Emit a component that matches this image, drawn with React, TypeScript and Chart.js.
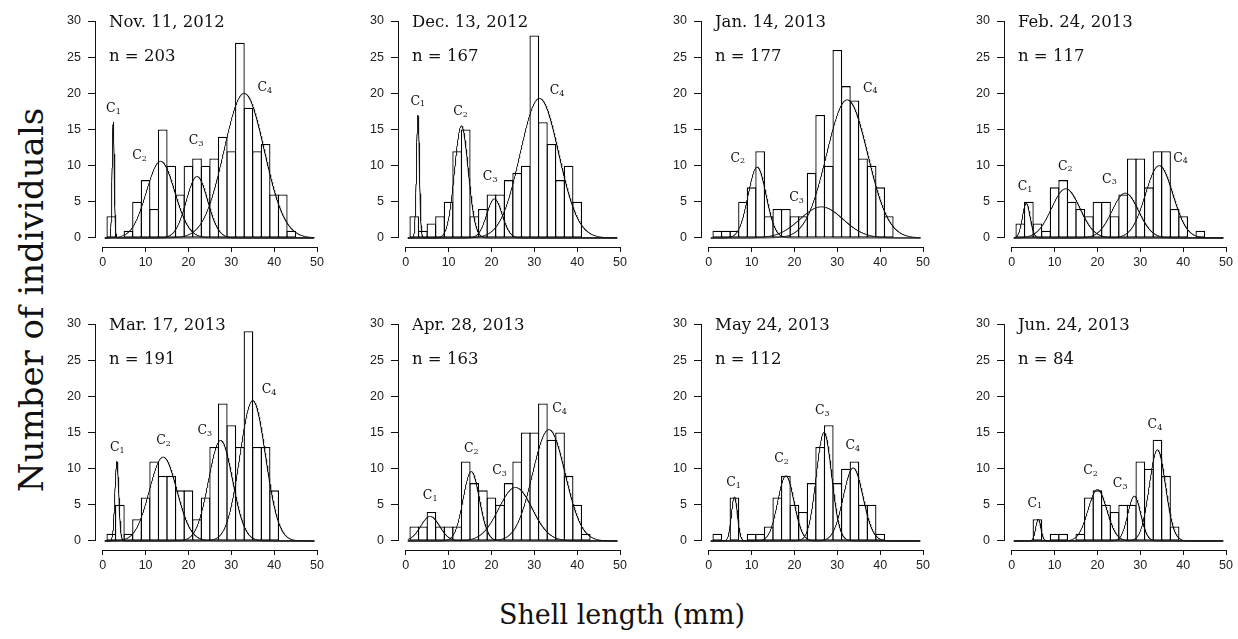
import React, { useEffect, useRef } from "react";
import { Chart, registerables } from "chart.js";

Chart.register(...registerables);

// ---------- data ----------
const binCenters = [2, 4, 6, 8, 10, 12, 14, 16, 18, 20, 22, 24, 26, 28, 30, 32, 34, 36, 38, 40, 42, 44];
const yTickValues = [0, 5, 10, 15, 20, 25, 30];
const xTickValues = [0, 10, 20, 30, 40, 50];

const sampleDates = [
  "Nov. 11, 2012", "Dec. 13, 2012", "Jan. 14, 2013", "Feb. 24, 2013",
  "Mar. 17, 2013", "Apr. 28, 2013", "May 24, 2013", "Jun. 24, 2013",
];
const sampleSizes = [203, 167, 177, 117, 191, 163, 112, 84];

const countsNov = [3, 0, 1, 5, 8, 4, 15, 10, 6, 10, 11, 10, 11, 14, 12, 27, 18, 12, 13, 6, 6, 1];
const countsDec = [3, 1, 2, 3, 5, 12, 15, 3, 4, 6, 6, 8, 9, 10, 28, 16, 13, 8, 10, 5, 0, 0];
const countsJan = [1, 1, 1, 5, 7, 12, 3, 4, 4, 3, 3, 9, 17, 10, 26, 21, 19, 11, 10, 7, 3, 0];
const countsFeb = [2, 5, 2, 1, 7, 8, 5, 4, 3, 5, 5, 3, 6, 11, 11, 7, 12, 12, 4, 3, 0, 1];
const countsMar = [1, 5, 1, 3, 6, 11, 9, 9, 7, 7, 3, 6, 13, 19, 16, 13, 29, 13, 13, 7, 0, 0];
const countsApr = [2, 2, 4, 2, 2, 2, 11, 8, 7, 6, 5, 8, 11, 15, 15, 19, 14, 15, 9, 5, 1, 0];
const countsMay = [1, 0, 6, 0, 1, 1, 2, 6, 9, 5, 4, 8, 13, 16, 8, 10, 11, 5, 5, 1, 0, 0];
const countsJun = [0, 0, 3, 0, 1, 1, 0, 1, 6, 7, 5, 4, 5, 5, 11, 10, 14, 9, 2, 0, 0, 0];
const allCounts = [countsNov, countsDec, countsJan, countsFeb, countsMar, countsApr, countsMay, countsJun];

// fitted normal components C1..C4 (null = absent)
const componentMeans = [
  [2.45, 13.5, 22, 33],
  [2.85, 13, 20.7, 31.2],
  [null, 11.3, 26.3, 32.3],
  [3.4, 12.6, 26.5, 34.4],
  [3.3, 14.1, 27.5, 35],
  [5.7, 15.3, 25.6, 33.4],
  [6, 18, 26.9, 33.7],
  [6.2, 20, 28.6, 34],
];
const componentPeaks = [
  [16, 10.6, 8.5, 20],
  [17, 15.5, 5.4, 19.3],
  [null, 9.8, 4.3, 19.1],
  [4.8, 6.8, 6.2, 10],
  [11, 11.6, 13.9, 19.4],
  [3.4, 9.6, 7.4, 15.4],
  [6.1, 9, 15, 10.1],
  [3, 7.1, 6.2, 12.6],
];
const componentSds = [
  [0.25, 3.3, 2.5, 4.7],
  [0.35, 1.6, 1.8, 4.5],
  [null, 2.1, 5, 4.8],
  [0.9, 3.3, 3.1, 3.2],
  [0.45, 3.2, 2.8, 3.0],
  [2.2, 1.9, 3.9, 3.8],
  [0.7, 1.9, 1.8, 2.3],
  [0.6, 2.2, 1.5, 1.9],
];
const labelX = [
  [2.5, 8.6, 21.8, 37.8],
  [2.8, 12.8, 19.7, 35.3],
  [null, 6.8, 20.5, 37.7],
  [3.1, 12.5, 22.8, 39.4],
  [3.4, 14.2, 23.8, 38.8],
  [5.7, 15.3, 21.9, 35.9],
  [5.8, 17, 26.5, 33.6],
  [5.4, 18.4, 25.3, 33.4],
];
const labelY = [
  [17.9, 11.3, 13.4, 20.8],
  [18.9, 17.4, 8.4, 20.3],
  [null, 11, 5.6, 20.7],
  [7.1, 9.9, 8.1, 11],
  [12.9, 13.9, 15.2, 20.9],
  [6.2, 12.7, 9.7, 18.3],
  [8, 11.3, 18, 13.1],
  [5.2, 9.7, 7.9, 16.1],
];

// ---------- layout ----------
const AXIS_W = 40;
const PAD_TOP = 18;
const PAD_RIGHT = 8;
const XAXIS_H = 25;
const PLOT_W = 224;
const PLOT_H = 226;
const CANVAS_W = AXIS_W + PLOT_W + PAD_RIGHT;
const CANVAS_H = PAD_TOP + PLOT_H + XAXIS_H;
const PANEL_AXIS_X0 = 95;
const PANEL_DX = 303;
const ROW_TOP = [21, 324];

const SERIF = '"DejaVu Serif", "Liberation Serif", serif';
const SANS = '"Liberation Sans", Arial, sans-serif';
const INK = "#111";

function curvePoints(mean: number, peak: number, sd: number) {
  const pts: { x: number; y: number }[] = [];
  for (let i = 0; i <= 980; i++) {
    const x = 0.5 + i * 0.05;
    const z = (x - mean) / sd;
    pts.push({ x, y: peak * Math.exp(-0.5 * z * z) });
  }
  return pts;
}

function Panel({ idx }: { idx: number }) {
  const ref = useRef<HTMLCanvasElement | null>(null);
  const col = idx % 4;
  const row = Math.floor(idx / 4);
  const left = PANEL_AXIS_X0 + PANEL_DX * col - AXIS_W;
  const top = ROW_TOP[row] - PAD_TOP;

  useEffect(() => {
    if (!ref.current) return;
    const counts = allCounts[idx];
    const datasets: any[] = [];
    for (let k = 0; k < 4; k++) {
      const m = componentMeans[idx][k];
      if (m == null) continue;
      datasets.push({
        type: "line",
        data: curvePoints(m, componentPeaks[idx][k] as number, componentSds[idx][k] as number),
        borderColor: INK,
        borderWidth: 1,
        pointRadius: 0,
        fill: false,
        tension: 0,
        order: 0,
      });
    }
    datasets.push({
      type: "bar",
      data: binCenters.map((x, i) => ({ x, y: counts[i] })),
      backgroundColor: "#ffffff",
      borderColor: "#000",
      borderWidth: 1.3,
      borderSkipped: false,
      barPercentage: 1.13,
      categoryPercentage: 1,
      inflateAmount: 0,
      order: 1,
    });

    const decor = {
      id: "panelDecor",
      afterDraw(chart: any) {
        const { ctx, chartArea } = chart;
        const xs = chart.scales.x;
        const ys = chart.scales.y;
        ctx.save();
        ctx.strokeStyle = INK;
        ctx.lineWidth = 1;
        const ax = Math.round(chartArea.left) + 0.5;
        ctx.beginPath();
        ctx.moveTo(ax, ys.getPixelForValue(30));
        ctx.lineTo(ax, ys.getPixelForValue(0));
        ctx.stroke();
        const by = Math.round(chartArea.bottom) + 0.5;
        ctx.beginPath();
        ctx.moveTo(xs.getPixelForValue(0), by);
        ctx.lineTo(xs.getPixelForValue(50), by);
        ctx.stroke();

        ctx.fillStyle = INK;
        ctx.textAlign = "left";
        ctx.textBaseline = "alphabetic";
        ctx.font = `16.5px ${SERIF}`;
        ctx.fillText(sampleDates[idx], chartArea.left + 14, chartArea.top + 6);
        ctx.fillText("n = " + sampleSizes[idx], chartArea.left + 14, chartArea.top + 40);

        for (let k = 0; k < 4; k++) {
          const lx = labelX[idx][k];
          const ly = labelY[idx][k];
          if (lx == null || ly == null) continue;
          const px = xs.getPixelForValue(lx);
          const py = ys.getPixelForValue(ly);
          ctx.font = `12.5px ${SERIF}`;
          const wC = ctx.measureText("C").width;
          ctx.font = `8px ${SERIF}`;
          const sub = String(k + 1);
          const wS = ctx.measureText(sub).width;
          const start = px - (wC + wS) / 2;
          ctx.textBaseline = "middle";
          ctx.font = `12.5px ${SERIF}`;
          ctx.fillText("C", start, py);
          ctx.font = `8px ${SERIF}`;
          ctx.fillText(sub, start + wC, py + 3);
        }
        ctx.restore();
      },
    };

    const chart = new Chart(ref.current, {
      type: "bar",
      data: { datasets },
      options: {
        responsive: false,
        animation: false,
        devicePixelRatio: 1,
        events: [],
        layout: { padding: { top: PAD_TOP, right: PAD_RIGHT, left: 0, bottom: 0 } },
        plugins: {
          legend: { display: false },
          tooltip: { enabled: false },
          title: { display: false },
        },
        scales: {
          x: {
            type: "linear",
            min: -1.8,
            max: 50,
            offset: false,
            afterBuildTicks: (s: any) => {
              s.ticks = xTickValues.map((v) => ({ value: v }));
            },
            afterFit: (s: any) => {
              s.height = XAXIS_H;
            },
            grid: {
              display: true,
              drawOnChartArea: false,
              drawTicks: true,
              tickLength: 5,
              color: INK,
              lineWidth: 1,
              offset: false,
            },
            border: { display: false },
            ticks: {
              color: "#222",
              font: { family: SANS, size: 12.5 },
              padding: 3,
              maxRotation: 0,
              autoSkip: false,
            },
          },
          y: {
            type: "linear",
            min: -1.25,
            max: 30,
            afterBuildTicks: (s: any) => {
              s.ticks = yTickValues.map((v) => ({ value: v }));
            },
            afterFit: (s: any) => {
              s.width = AXIS_W;
            },
            grid: {
              display: true,
              drawOnChartArea: false,
              drawTicks: true,
              tickLength: 7,
              color: INK,
              lineWidth: 1,
            },
            border: { display: false },
            ticks: {
              color: "#222",
              font: { family: SANS, size: 12.5 },
              padding: 7,
              autoSkip: false,
            },
          },
        },
      } as any,
      plugins: [decor],
    });
    return () => chart.destroy();
  }, [idx]);

  return (
    <canvas
      ref={ref}
      width={CANVAS_W}
      height={CANVAS_H}
      style={{ position: "absolute", left, top, width: CANVAS_W, height: CANVAS_H }}
    />
  );
}

export default function App() {
  return (
    <div
      style={{
        position: "absolute",
        left: 0,
        top: 0,
        width: 1238,
        height: 639,
        background: "#ffffff",
        overflow: "hidden",
      }}
    >
      {sampleDates.map((_, i) => (
        <Panel key={i} idx={i} />
      ))}
      <div
        style={{
          position: "absolute",
          left: 30.5 - 250,
          top: 300 - 17,
          width: 500,
          height: 34,
          lineHeight: "34px",
          fontSize: 34,
          fontFamily: SERIF,
          color: INK,
          textAlign: "center",
          whiteSpace: "nowrap",
          transform: "rotate(-90deg)",
        }}
      >
        Number of individuals
      </div>
      <div
        style={{
          position: "absolute",
          left: 622 - 200,
          top: 601,
          width: 400,
          height: 27,
          lineHeight: "27px",
          fontSize: 27,
          fontFamily: SERIF,
          color: INK,
          textAlign: "center",
          whiteSpace: "nowrap",
        }}
      >
        Shell length (mm)
      </div>
    </div>
  );
}
